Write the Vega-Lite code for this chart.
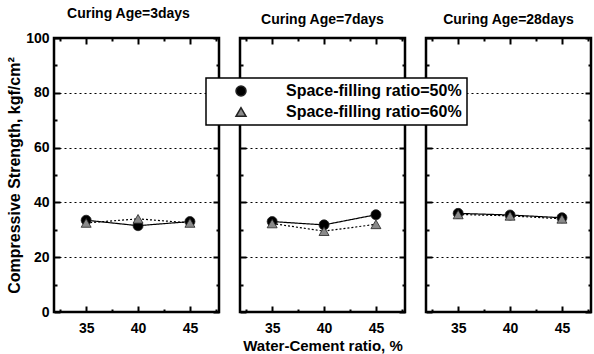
{
  "$schema": "https://vega.github.io/schema/vega-lite/v6.json",
  "autosize": {"type": "pad"},
  "padding": {"left": 5, "top": 5, "right": 0, "bottom": 0},
  "background": "white",
  "data": {"values": [
    {"age": 3, "wc": 35, "series": "Space-filling ratio=50%", "strength": 33.5},
    {"age": 3, "wc": 40, "series": "Space-filling ratio=50%", "strength": 31.5},
    {"age": 3, "wc": 45, "series": "Space-filling ratio=50%", "strength": 33.0},
    {"age": 7, "wc": 35, "series": "Space-filling ratio=50%", "strength": 33.0},
    {"age": 7, "wc": 40, "series": "Space-filling ratio=50%", "strength": 31.8},
    {"age": 7, "wc": 45, "series": "Space-filling ratio=50%", "strength": 35.5},
    {"age": 28, "wc": 35, "series": "Space-filling ratio=50%", "strength": 36.0},
    {"age": 28, "wc": 40, "series": "Space-filling ratio=50%", "strength": 35.4},
    {"age": 28, "wc": 45, "series": "Space-filling ratio=50%", "strength": 34.4},
    {"age": 3, "wc": 35, "series": "Space-filling ratio=60%", "strength": 32.5},
    {"age": 3, "wc": 40, "series": "Space-filling ratio=60%", "strength": 34.0},
    {"age": 3, "wc": 45, "series": "Space-filling ratio=60%", "strength": 32.5},
    {"age": 7, "wc": 35, "series": "Space-filling ratio=60%", "strength": 32.3},
    {"age": 7, "wc": 40, "series": "Space-filling ratio=60%", "strength": 29.5},
    {"age": 7, "wc": 45, "series": "Space-filling ratio=60%", "strength": 32.0},
    {"age": 28, "wc": 35, "series": "Space-filling ratio=60%", "strength": 35.6},
    {"age": 28, "wc": 40, "series": "Space-filling ratio=60%", "strength": 35.1},
    {"age": 28, "wc": 45, "series": "Space-filling ratio=60%", "strength": 34.0}
  ]},
  "spacing": 21,
  "bounds": "flush",
  "hconcat": [
    {
      "width": 165, "height": 274,
      "title": {"text": "Curing Age=3days", "dx": -8},
      "transform": [{"filter": "datum.age == 3"}],
      "resolve": {"axis": {"x": "independent", "y": "independent"}, "legend": {"shape": "independent", "fill": "independent", "strokeDash": "independent"}},
      "layer": [
        {
          "mark": {"type": "line", "color": "black", "strokeWidth": 1.2},
          "encoding": {
            "x": {"field": "wc", "type": "quantitative", "scale": {"domain": [31.9, 47.8], "nice": false, "zero": false},
              "axis": {"orient": "bottom", "values": [35, 40, 45], "tickSize": -6, "labelPadding": 15, "title": null, "grid": false}},
            "y": {"field": "strength", "type": "quantitative", "scale": {"domain": [0, 100], "nice": false, "zero": true},
              "axis": {"orient": "left", "values": [0, 20, 40, 60, 80, 100], "tickSize": -6, "labelPadding": 11, "grid": true, "gridDash": [2, 3], "gridColor": "black", "gridWidth": 1, "gridOpacity": {"condition": {"test": "datum.value > 0 && datum.value < 100", "value": 1}, "value": 0}, "title": "Compressive Strength, kgf/cm²", "titlePadding": 3}},
            "strokeDash": {"field": "series", "type": "nominal", "scale": {"domain": ["Space-filling ratio=50%", "Space-filling ratio=60%"], "range": [[1, 0], [2, 2]]}, "legend": null}
          }
        },
        {
          "mark": {"type": "point", "filled": true, "size": 100, "stroke": "#222", "strokeWidth": 0.8, "opacity": 1},
          "encoding": {
            "x": {"field": "wc", "type": "quantitative", "axis": null},
            "y": {"field": "strength", "type": "quantitative", "axis": null},
            "shape": {"field": "series", "type": "nominal", "scale": {"domain": ["Space-filling ratio=50%", "Space-filling ratio=60%"], "range": ["circle", "triangle-up"]}, "legend": null},
            "fill": {"field": "series", "type": "nominal", "scale": {"domain": ["Space-filling ratio=50%", "Space-filling ratio=60%"], "range": ["black", "#8a8a8a"]}, "legend": null}
          }
        },
        {
          "mark": {"type": "point", "opacity": 0},
          "encoding": {
            "x": {"field": "wc", "type": "quantitative", "axis": {"orient": "top", "values": [35, 40, 45], "labels": false, "title": null, "tickSize": -6}},
            "y": {"field": "strength", "type": "quantitative", "axis": {"orient": "right", "values": [0, 20, 40, 60, 80, 100], "labels": false, "title": null, "tickSize": -6}}
          }
        },
        {
          "mark": {"type": "point", "opacity": 0},
          "encoding": {
            "x": {"field": "wc", "type": "quantitative", "axis": {"orient": "bottom", "values": [32.5, 37.5, 42.5, 47.5], "labels": false, "title": null, "tickSize": -3}},
            "y": {"field": "strength", "type": "quantitative", "axis": {"orient": "left", "values": [10, 30, 50, 70, 90], "labels": false, "title": null, "tickSize": -3}}
          }
        },
        {
          "mark": {"type": "point", "opacity": 0},
          "encoding": {
            "x": {"field": "wc", "type": "quantitative", "axis": {"orient": "top", "values": [32.5, 37.5, 42.5, 47.5], "labels": false, "title": null, "tickSize": -3}},
            "y": {"field": "strength", "type": "quantitative", "axis": {"orient": "right", "values": [10, 30, 50, 70, 90], "labels": false, "title": null, "tickSize": -3}}
          }
        }
      ]
    },
    {
      "width": 165, "height": 274,
      "title": {"text": "Curing Age=7days"},
      "transform": [{"filter": "datum.age == 7"}],
      "resolve": {"axis": {"x": "independent", "y": "independent"}, "legend": {"shape": "independent", "fill": "independent", "strokeDash": "independent"}},
      "layer": [
        {
          "mark": {"type": "line", "color": "black", "strokeWidth": 1.2},
          "encoding": {
            "x": {"field": "wc", "type": "quantitative", "scale": {"domain": [31.9, 47.8], "nice": false, "zero": false},
              "axis": {"orient": "bottom", "values": [35, 40, 45], "tickSize": -6, "labelPadding": 15, "title": "Water-Cement ratio, %", "titleFontSize": 15, "titlePadding": 3, "grid": false}},
            "y": {"field": "strength", "type": "quantitative", "scale": {"domain": [0, 100], "nice": false, "zero": true},
              "axis": {"orient": "left", "values": [0, 20, 40, 60, 80, 100], "labels": false, "tickSize": -6, "grid": true, "gridDash": [2, 3], "gridColor": "black", "gridWidth": 1, "gridOpacity": {"condition": {"test": "datum.value > 0 && datum.value < 100", "value": 1}, "value": 0}, "title": null}},
            "strokeDash": {"field": "series", "type": "nominal", "scale": {"domain": ["Space-filling ratio=50%", "Space-filling ratio=60%"], "range": [[1, 0], [2, 2]]}, "legend": null}
          }
        },
        {
          "mark": {"type": "point", "filled": true, "size": 100, "stroke": "#222", "strokeWidth": 0.8, "opacity": 1},
          "encoding": {
            "x": {"field": "wc", "type": "quantitative", "axis": null},
            "y": {"field": "strength", "type": "quantitative", "axis": null},
            "shape": {"field": "series", "type": "nominal", "scale": {"domain": ["Space-filling ratio=50%", "Space-filling ratio=60%"], "range": ["circle", "triangle-up"]}, "legend": null},
            "fill": {"field": "series", "type": "nominal", "scale": {"domain": ["Space-filling ratio=50%", "Space-filling ratio=60%"], "range": ["black", "#8a8a8a"]}, "legend": null}
          }
        },
        {
          "mark": {"type": "point", "opacity": 0},
          "encoding": {
            "x": {"field": "wc", "type": "quantitative", "axis": {"orient": "top", "values": [35, 40, 45], "labels": false, "title": null, "tickSize": -6}},
            "y": {"field": "strength", "type": "quantitative", "axis": {"orient": "right", "values": [0, 20, 40, 60, 80, 100], "labels": false, "title": null, "tickSize": -6}}
          }
        },
        {
          "mark": {"type": "point", "opacity": 0},
          "encoding": {
            "x": {"field": "wc", "type": "quantitative", "axis": {"orient": "bottom", "values": [32.5, 37.5, 42.5, 47.5], "labels": false, "title": null, "tickSize": -3}},
            "y": {"field": "strength", "type": "quantitative", "axis": {"orient": "left", "values": [10, 30, 50, 70, 90], "labels": false, "title": null, "tickSize": -3}}
          }
        },
        {
          "mark": {"type": "point", "opacity": 0},
          "encoding": {
            "x": {"field": "wc", "type": "quantitative", "axis": {"orient": "top", "values": [32.5, 37.5, 42.5, 47.5], "labels": false, "title": null, "tickSize": -3}},
            "y": {"field": "strength", "type": "quantitative", "axis": {"orient": "right", "values": [10, 30, 50, 70, 90], "labels": false, "title": null, "tickSize": -3}}
          }
        }
      ]
    },
    {
      "width": 165, "height": 274,
      "title": {"text": "Curing Age=28days"},
      "transform": [{"filter": "datum.age == 28"}],
      "resolve": {"axis": {"x": "independent", "y": "independent"}, "legend": {"shape": "independent", "fill": "independent", "strokeDash": "independent"}},
      "layer": [
        {
          "mark": {"type": "line", "color": "black", "strokeWidth": 1.2},
          "encoding": {
            "x": {"field": "wc", "type": "quantitative", "scale": {"domain": [31.9, 47.8], "nice": false, "zero": false},
              "axis": {"orient": "bottom", "values": [35, 40, 45], "tickSize": -6, "labelPadding": 15, "title": null, "grid": false}},
            "y": {"field": "strength", "type": "quantitative", "scale": {"domain": [0, 100], "nice": false, "zero": true},
              "axis": {"orient": "left", "values": [0, 20, 40, 60, 80, 100], "labels": false, "tickSize": -6, "grid": true, "gridDash": [2, 3], "gridColor": "black", "gridWidth": 1, "gridOpacity": {"condition": {"test": "datum.value > 0 && datum.value < 100", "value": 1}, "value": 0}, "title": null}},
            "strokeDash": {"field": "series", "type": "nominal", "scale": {"domain": ["Space-filling ratio=50%", "Space-filling ratio=60%"], "range": [[1, 0], [2, 2]]}, "legend": null}
          }
        },
        {
          "mark": {"type": "point", "filled": true, "size": 100, "stroke": "#222", "strokeWidth": 0.8, "opacity": 1},
          "encoding": {
            "x": {"field": "wc", "type": "quantitative", "axis": null},
            "y": {"field": "strength", "type": "quantitative", "axis": null},
            "shape": {"field": "series", "type": "nominal", "scale": {"domain": ["Space-filling ratio=50%", "Space-filling ratio=60%"], "range": ["circle", "triangle-up"]},
              "legend": {"orient": "none", "legendX": -220, "legendY": 40, "title": null, "padding": 5, "rowPadding": 5, "labelOffset": 37, "symbolOffset": 22, "symbolSize": 100, "labelLimit": 0,
                "encode": {"symbols": {
                  "fill": {"value": {"expr": "datum.value === 'Space-filling ratio=50%' ? 'black' : '#8a8a8a'"}},
                  "stroke": {"value": "#222"},
                  "strokeWidth": {"value": 1}
                }}}},
            "fill": {"field": "series", "type": "nominal", "scale": {"domain": ["Space-filling ratio=50%", "Space-filling ratio=60%"], "range": ["black", "#8a8a8a"]}, "legend": null}
          }
        },
        {
          "mark": {"type": "point", "opacity": 0},
          "encoding": {
            "x": {"field": "wc", "type": "quantitative", "axis": {"orient": "top", "values": [35, 40, 45], "labels": false, "title": null, "tickSize": -6}},
            "y": {"field": "strength", "type": "quantitative", "axis": {"orient": "right", "values": [0, 20, 40, 60, 80, 100], "labels": false, "title": null, "tickSize": -6}}
          }
        },
        {
          "mark": {"type": "point", "opacity": 0},
          "encoding": {
            "x": {"field": "wc", "type": "quantitative", "axis": {"orient": "bottom", "values": [32.5, 37.5, 42.5, 47.5], "labels": false, "title": null, "tickSize": -3}},
            "y": {"field": "strength", "type": "quantitative", "axis": {"orient": "left", "values": [10, 30, 50, 70, 90], "labels": false, "title": null, "tickSize": -3}}
          }
        },
        {
          "mark": {"type": "point", "opacity": 0},
          "encoding": {
            "x": {"field": "wc", "type": "quantitative", "axis": {"orient": "top", "values": [32.5, 37.5, 42.5, 47.5], "labels": false, "title": null, "tickSize": -3}},
            "y": {"field": "strength", "type": "quantitative", "axis": {"orient": "right", "values": [10, 30, 50, 70, 90], "labels": false, "title": null, "tickSize": -3}}
          }
        }
      ]
    }
  ],
  "config": {
    "font": "Liberation Sans",
    "view": {"stroke": "black", "strokeWidth": 2.5},
    "axis": {"domain": false, "tickColor": "black", "tickWidth": 2, "labelFont": "Liberation Sans", "labelFontWeight": "bold", "labelFontSize": 14, "labelColor": "black", "titleFont": "Liberation Sans", "titleFontSize": 16, "titleFontWeight": "bold", "titleColor": "black"},
    "title": {"font": "Liberation Sans", "fontSize": 14, "fontWeight": "bold", "color": "black", "offset": 10, "anchor": "middle"},
    "legend": {"labelFont": "Liberation Sans", "labelFontSize": 16, "labelFontWeight": "bold", "labelColor": "black", "labelLimit": 0, "fillColor": "white", "strokeColor": "black", "strokeWidth": 1.5}
  }
}
